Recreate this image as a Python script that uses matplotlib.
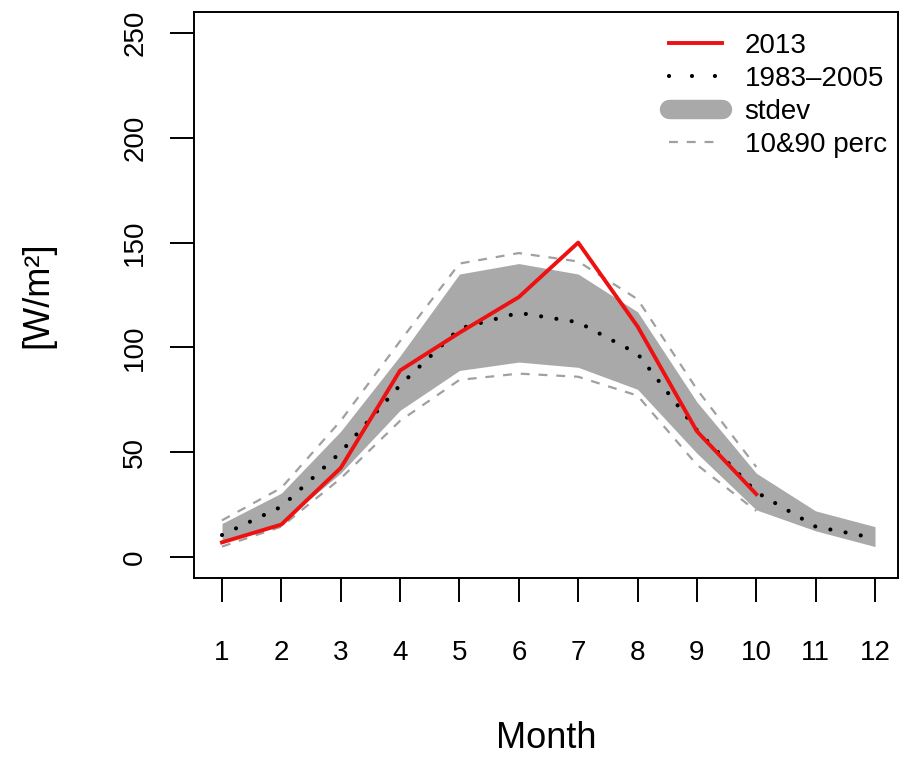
import matplotlib
matplotlib.use("Agg")
import matplotlib.pyplot as plt
from matplotlib.lines import Line2D
import numpy as np

plt.rcParams['font.family'] = ['Liberation Sans', 'DejaVu Sans']

months = np.arange(1, 13)
tick_labels = [str(m) for m in months]

# 2013 values (Jan-Oct)
obs_2013 = [7, 15.5, 42.5, 89, 107, 124, 150, 110, 60, 30]
# climatology 1983-2005
clim_mean = [10.5, 24, 50, 82, 109, 116.5, 112, 97, 60.5, 31, 14.5, 9]
# mean +/- stdev
sd_upper = [16, 30.5, 60, 96, 135, 140, 135, 117, 74, 40, 22, 14.5]
sd_lower = [6.5, 16.5, 40, 70, 89, 93, 90.5, 80, 49.5, 22.5, 12.5, 5]
# 10% and 90% percentiles (Jan-Oct)
perc90 = [17.5, 33, 65, 103, 140, 145, 141, 123, 80, 43]
perc10 = [5, 14.5, 37.5, 65, 84.5, 87.5, 86, 77, 44, 22]

fig = plt.figure(figsize=(9.07, 7.58), dpi=100)
ax = fig.add_axes([194/907, 1 - 578/758, (898-194)/907, (578-12)/758])

red = '#ee1111'
band_col = '#a9a9a9'
perc_col = '#a0a0a0'
dots = (0, (0.01, 3.7))

ax.fill_between(months, sd_lower, sd_upper, color=band_col, lw=0)
ax.plot(months[:10], perc90, color=perc_col, lw=1.6, ls=(0, (4, 4)))
ax.plot(months[:10], perc10, color=perc_col, lw=1.6, ls=(0, (4, 4)))
ax.plot(months, clim_mean, color='black', lw=3, ls=dots, dash_capstyle='round')
ax.plot(months[:10], obs_2013, color=red, lw=2.8)

ax.set_xlim(1 - 28/59.36, 12 + 23/59.36)
ax.set_ylim(-10, 260)
ax.set_xticks(months)
ax.set_xticklabels(tick_labels)
ax.set_yticks(np.arange(0, 251, 50))
ax.set_yticklabels([str(v) for v in range(0, 251, 50)], rotation=90, va='center')
for s in ax.spines.values():
    s.set_linewidth(1.4)
ax.tick_params(axis='both', length=17, width=1.4, labelsize=20, direction='out')
ax.tick_params(axis='x', pad=28)
ax.tick_params(axis='y', pad=16)

ax.set_xlabel('Month', fontsize=26, labelpad=39)
ax.set_ylabel('[W/m²]', fontsize=26, labelpad=48)

handles = [
    Line2D([], [], color=red, lw=2.8),
    Line2D([], [], color='black', lw=3, ls=(0, (0.01, 5.5)), dash_capstyle='round'),
    Line2D([], [], color=band_col, lw=14, solid_capstyle='round'),
    Line2D([], [], color=perc_col, lw=1.6, ls=(0, (4, 4))),
]
ax.legend(handles, ['2013', '1983–2005', 'stdev', '10&90 perc'],
          loc='upper right', bbox_to_anchor=(0.984, 0.963), frameon=False,
          fontsize=20, handlelength=1.9, handletextpad=0.83, labelspacing=0.25,
          borderaxespad=0, borderpad=0)

fig.savefig('out.png', dpi=100)
